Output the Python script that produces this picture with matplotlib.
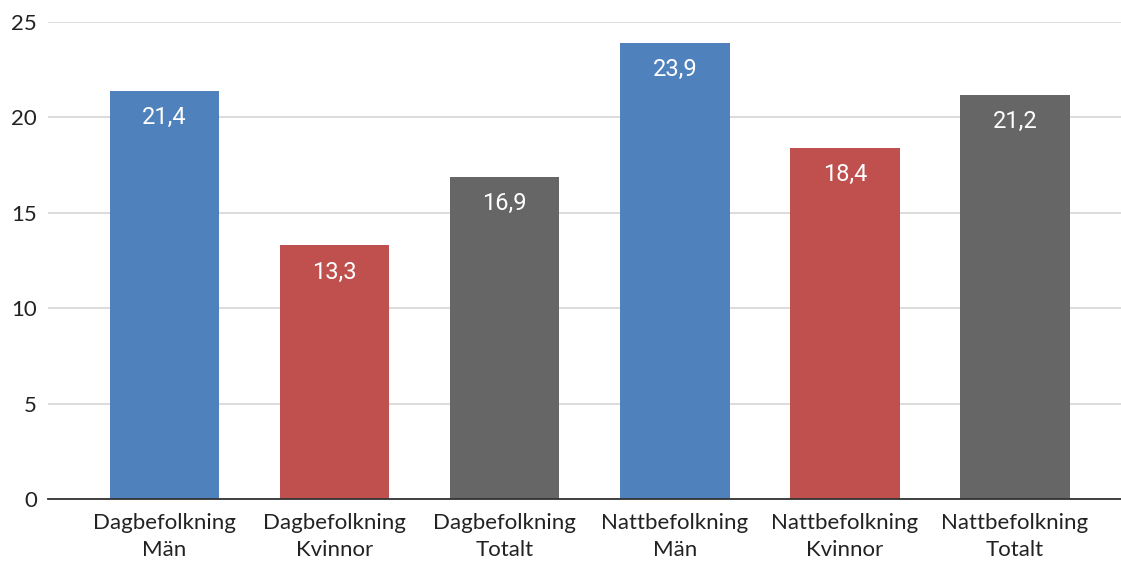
import matplotlib.pyplot as plt
import numpy as np

# ---------------------------------------------------------------------------
# Data
# ---------------------------------------------------------------------------
categories = [
    "Dagbefolkning\nMän",
    "Dagbefolkning\nKvinnor",
    "Dagbefolkning\nTotalt",
    "Nattbefolkning\nMän",
    "Nattbefolkning\nKvinnor",
    "Nattbefolkning\nTotalt",
]
values = [21.4, 13.3, 16.9, 23.9, 18.4, 21.2]
value_labels = ["21,4", "13,3", "16,9", "23,9", "18,4", "21,2"]
bar_colors = ["#4F81BD", "#C0504D", "#666666", "#4F81BD", "#C0504D", "#666666"]
y_ticks = [0, 5, 10, 15, 20, 25]

# ---------------------------------------------------------------------------
# Figure
# ---------------------------------------------------------------------------
W, H = 1121, 562
fig = plt.figure(figsize=(W / 100, H / 100), dpi=100, facecolor="white")
ax = fig.add_axes([48 / W, (H - 499) / H, (W - 48) / W, (499 - 22) / H])

x = np.arange(len(categories))
bars = ax.bar(x, values, width=0.645, color=bar_colors, zorder=3)

for rect, label in zip(bars, value_labels):
    ax.annotate(
        label,
        (rect.get_x() + rect.get_width() / 2, rect.get_height()),
        xytext=(0, -11),
        textcoords="offset points",
        ha="center",
        va="top",
        color="white",
        fontsize=17,
        family="Roboto",
        zorder=4,
    )

ax.set_xlim(-0.684, 5.623)
ax.set_ylim(0, 25)
ax.set_yticks(y_ticks)
ax.set_yticklabels([str(t) for t in y_ticks], fontsize=16, family="Lato", color="#222222")
ax.set_xticks(x)
ax.set_xticklabels(categories, fontsize=16, family="Lato", color="#222222",
                   linespacing=1.45)
ax.tick_params(axis="y", length=0, pad=8)
ax.tick_params(axis="x", length=0, pad=10)

ax.grid(axis="y", color="#D6D6D6", linewidth=1.2, zorder=0)
for side in ["top", "right", "left"]:
    ax.spines[side].set_visible(False)
ax.spines["bottom"].set_color("#333333")
ax.spines["bottom"].set_linewidth(1.3)
ax.spines["bottom"].set_zorder(5)

fig.savefig("out.png", dpi=100, facecolor="white")
